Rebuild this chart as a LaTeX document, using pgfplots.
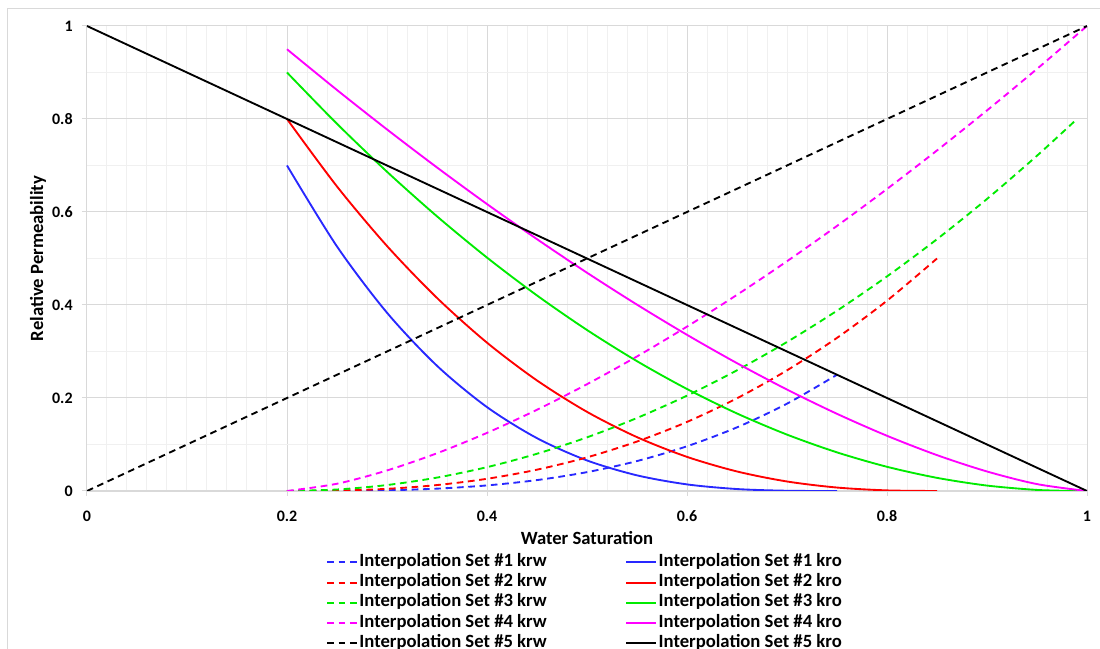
\documentclass[border=0pt]{standalone}
\usepackage{fontspec}
\setmainfont{Carlito}
\usepackage{pgfplots}
\pgfplotsset{compat=1.18}
\definecolor{cblue}{RGB}{40,40,255}
\definecolor{cred}{RGB}{255,0,0}
\definecolor{cgreen}{RGB}{0,235,0}
\definecolor{cmag}{RGB}{255,0,255}
\definecolor{majgrid}{RGB}{217,217,217}
\definecolor{mingrid}{RGB}{240,240,240}
\begin{document}
\begin{tikzpicture}
\begin{axis}[
  at={(0pt,0pt)}, anchor=south west,
  scale only axis, width=750pt, height=348.75pt,
  xmin=0, xmax=1, ymin=0, ymax=1,
  xtick={0,0.2,0.4,0.6,0.8,1}, ytick={0,0.2,0.4,0.6,0.8,1},
  minor x tick num=9, minor y tick num=1,
  grid=both,
  major grid style={majgrid, line width=0.75pt},
  minor grid style={mingrid, line width=0.75pt},
  axis x line=bottom, axis y line=left, axis line style={-},
  x axis line style={majgrid, line width=1.5pt},
  y axis line style={majgrid, line width=0.75pt},
  tick align=outside, major tick length=3.75pt, minor tick length=0pt,
  tick style={majgrid, line width=0.75pt},
  /pgf/number format/assume math mode=true,
  ticklabel style={font=\bfseries\fontsize{12}{14}\selectfont, text=black},
  xticklabel style={yshift=-7.5pt},
  yticklabel style={xshift=-3.5pt},
  xlabel={Water Saturation}, ylabel={Relative Permeability},
  every axis x label/.style={at={(axis description cs:0.5,-0.114)}, anchor=base,
    font=\bfseries\fontsize{14}{16}\selectfont},
  every axis y label/.style={at={(axis description cs:-0.049,0.5)}, rotate=90, anchor=center,
    font=\bfseries\fontsize{14}{16}\selectfont},
  legend columns=2, legend cell align=left,
  legend image code/.code={\draw[#1] (0pt,0pt) -- (22.5pt,0pt);},
  legend style={draw=none, fill=none, at={(axis description cs:0.239,-0.131)}, anchor=north west,
    inner sep=0pt, font=\bfseries\fontsize{14}{16}\selectfont,
    nodes={inner sep=1pt, text height=9.7pt, text depth=3.5pt},
    /tikz/every even column/.append style={column sep=58pt}},
  kw/.style={dash pattern=on 5pt off 3.5pt},
  ln/.style={line width=1.4pt},
]
\addlegendimage{cblue, ln, kw}
\addlegendentry{Interpolation Set \#1 krw}
\addlegendimage{cblue, ln}
\addlegendentry{Interpolation Set \#1 kro}
\addlegendimage{cred, ln, kw}
\addlegendentry{Interpolation Set \#2 krw}
\addlegendimage{cred, ln}
\addlegendentry{Interpolation Set \#2 kro}
\addlegendimage{cgreen, ln, kw}
\addlegendentry{Interpolation Set \#3 krw}
\addlegendimage{cgreen, ln}
\addlegendentry{Interpolation Set \#3 kro}
\addlegendimage{cmag, ln, kw}
\addlegendentry{Interpolation Set \#4 krw}
\addlegendimage{cmag, ln}
\addlegendentry{Interpolation Set \#4 kro}
\addlegendimage{black, ln, kw}
\addlegendentry{Interpolation Set \#5 krw}
\addlegendimage{black, ln}
\addlegendentry{Interpolation Set \#5 kro}
\addplot[cblue, ln, kw, smooth, forget plot] coordinates {(0.2,0) (0.25,0.000188) (0.3,0.0015) (0.35,0.00507) (0.4,0.01202) (0.45,0.02348) (0.5,0.04057) (0.55,0.0644) (0.6,0.0962) (0.65,0.1369) (0.7,0.1878) (0.75,0.25)};
\addplot[cblue, ln, smooth, forget plot] coordinates {(0.2,0.7) (0.25,0.5259) (0.3,0.3834) (0.35,0.2693) (0.4,0.1804) (0.45,0.1136) (0.5,0.0657) (0.55,0.03366) (0.6,0.0142) (0.65,0.00421) (0.7,0.000526) (0.75,0)};
\addplot[cred, ln, kw, smooth, forget plot] coordinates {(0.2,0) (0.25,0.00082) (0.3,0.00464) (0.35,0.01279) (0.4,0.02626) (0.45,0.04587) (0.5,0.07236) (0.55,0.10638) (0.6,0.14854) (0.65,0.1994) (0.7,0.2595) (0.75,0.3293) (0.8,0.4093) (0.85,0.5)};
\addplot[cred, ln, smooth, forget plot] coordinates {(0.2,0.8) (0.25,0.6549) (0.3,0.5269) (0.35,0.4152) (0.4,0.3190) (0.45,0.2377) (0.5,0.1702) (0.55,0.1158) (0.6,0.0734) (0.65,0.0420) (0.7,0.02046) (0.75,0.00743) (0.8,0.00131) (0.85,0)};
\addplot[cgreen, ln, kw, smooth, forget plot] coordinates {(0.2,0) (0.25,0.003205) (0.3,0.012818) (0.35,0.028841) (0.4,0.051274) (0.45,0.08012) (0.5,0.11537) (0.55,0.15703) (0.6,0.2051) (0.65,0.25957) (0.7,0.32046) (0.75,0.38776) (0.8,0.46146) (0.85,0.54158) (0.9,0.6281) (0.95,0.72104) (0.99,0.8)};
\addplot[cgreen, ln, smooth, forget plot] coordinates {(0.2,0.9) (0.25,0.78969) (0.3,0.68657) (0.35,0.59068) (0.4,0.50199) (0.45,0.42051) (0.5,0.34624) (0.55,0.27918) (0.6,0.21934) (0.65,0.1667) (0.7,0.12128) (0.75,0.08306) (0.8,0.05206) (0.85,0.028265) (0.9,0.01168) (0.95,0.002307) (0.99,0)};
\addplot[cmag, ln, kw, smooth, forget plot] coordinates {(0.2,0) (0.25,0.015625) (0.3,0.044194) (0.35,0.08119) (0.4,0.125) (0.45,0.17469) (0.5,0.22964) (0.55,0.28938) (0.6,0.35355) (0.65,0.421875) (0.7,0.49411) (0.75,0.57005) (0.8,0.64952) (0.85,0.73238) (0.9,0.81848) (0.95,0.90773) (1,1)};
\addplot[cmag, ln, smooth, forget plot] coordinates {(0.2,0.95) (0.25,0.86234) (0.3,0.77756) (0.35,0.69576) (0.4,0.61704) (0.45,0.54155) (0.5,0.4694) (0.55,0.40078) (0.6,0.33588) (0.65,0.27491) (0.7,0.21816) (0.75,0.16596) (0.8,0.11875) (0.85,0.07713) (0.9,0.04198) (0.95,0.01484) (1,0)};
\addplot[black, ln, kw, forget plot] coordinates {(0,0) (1,1)};
\addplot[black, ln, forget plot] coordinates {(0,1) (1,0)};
\end{axis}
\draw[black!15, line width=0.75pt] (800pt,361.5pt) -- (-59.25pt,361.5pt) -- (-59.25pt,-200pt);
\pgfresetboundingbox
\useasboundingbox (-65.25pt,-118.5pt) rectangle (759.75pt,368.25pt);
\end{tikzpicture}
\end{document}
